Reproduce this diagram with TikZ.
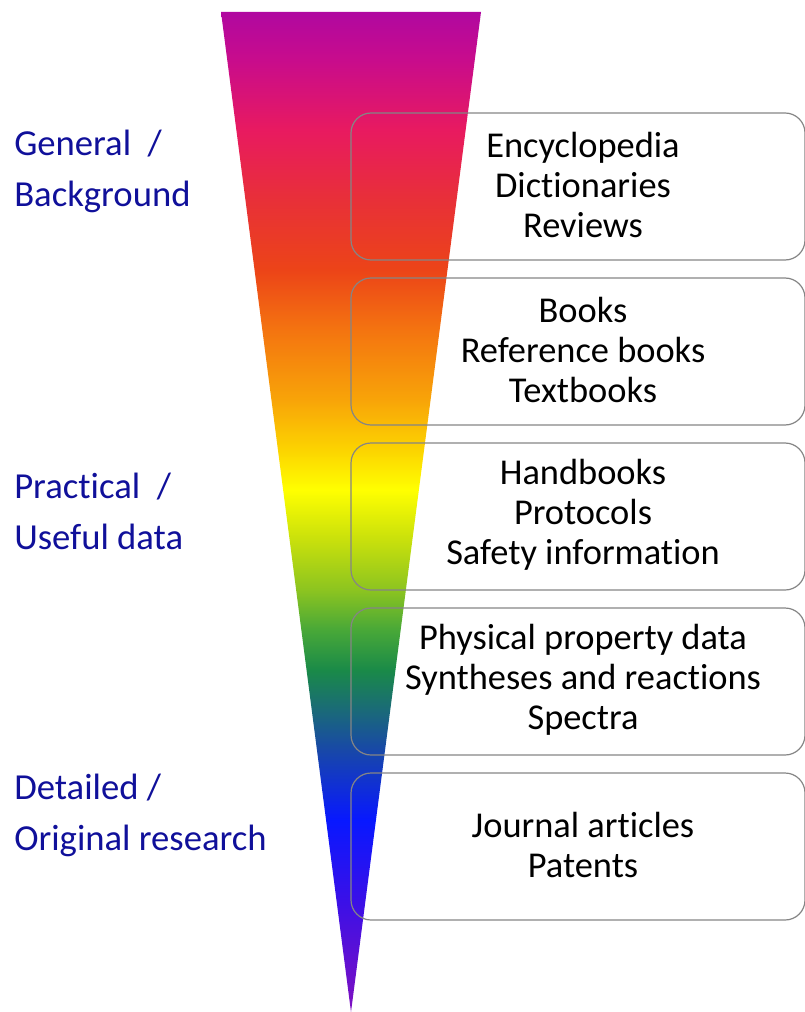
\documentclass[tikz,border=0pt]{standalone}
\usepackage{fontspec}
\setmainfont{Carlito}[Ligatures=NoCommon]
\definecolor{c01}{HTML}{B008A0}
\definecolor{c02}{HTML}{C80C8C}
\definecolor{c03}{HTML}{E81A60}
\definecolor{c04}{HTML}{E83038}
\definecolor{c05}{HTML}{EC4418}
\definecolor{c06}{HTML}{F47410}
\definecolor{c07}{HTML}{F8A408}
\definecolor{c08}{HTML}{FCD400}
\definecolor{c09}{HTML}{FFFF00}
\definecolor{c10}{HTML}{C8E00C}
\definecolor{c11}{HTML}{8CC420}
\definecolor{c12}{HTML}{48A838}
\definecolor{c13}{HTML}{1A8A48}
\definecolor{c14}{HTML}{1A6A78}
\definecolor{c15}{HTML}{1848A8}
\definecolor{c16}{HTML}{0818FF}
\definecolor{c17}{HTML}{3A10E8}
\definecolor{c18}{HTML}{8010C0}
\definecolor{labelblue}{HTML}{10109A}
\definecolor{boxgray}{HTML}{858585}
\pgfdeclareverticalshading{spectrum}{100bp}{%
color(0bp)=(c18);
color(25bp)=(c18);
color(30.6bp)=(c17);
color(34.6bp)=(c16);
color(38.1bp)=(c15);
color(40.1bp)=(c14);
color(42.1bp)=(c13);
color(44.1bp)=(c12);
color(46.1bp)=(c11);
color(48.6bp)=(c10);
color(51.1bp)=(c09);
color(53.1bp)=(c08);
color(55.6bp)=(c07);
color(59.1bp)=(c06);
color(62.1bp)=(c05);
color(65.6bp)=(c04);
color(69.1bp)=(c03);
color(72.6bp)=(c02);
color(75bp)=(c01);
color(100bp)=(c01)}
\tikzset{
  levelbox/.style={draw=boxgray, line width=0.9pt, rounded corners=15pt,
    minimum width=340.5pt, minimum height=110.25pt, inner sep=0pt},
  boxtext/.style={font=\fontsize{27.3pt}{30pt}\selectfont, align=center, text=black, inner sep=0pt},
  sidetext/.style={font=\fontsize{27.5pt}{38.25pt}\selectfont, align=left, text=labelblue, inner sep=0pt, anchor=base west}
}
\begin{document}
\begin{tikzpicture}[x=0.75pt,y=-0.75pt]
\useasboundingbox (0,0) rectangle (804,1012);
\shade[shading=spectrum] (221,12) -- (481,12) -- (351,1012) -- cycle;
\node[levelbox] (b1) at (578,186.5) {};
\node[levelbox] (b2) at (578,351.5) {};
\node[levelbox] (b3) at (578,516.5) {};
\node[levelbox] (b4) at (578,681.5) {};
\node[levelbox] (b5) at (578,846.5) {};
\node[boxtext] (t1) at ([xshift=3.75pt,yshift=1pt]b1.center) {Encyclopedia\\Dictionaries\\Reviews};
\node[boxtext] (t2) at ([xshift=3.75pt,yshift=1pt]b2.center) {Books\\Reference books\\Textbooks};
\node[boxtext] (t3) at ([xshift=3.75pt,yshift=1pt]b3.center) {Handbooks\\Protocols\\Safety information};
\node[boxtext] (t4) at ([xshift=3.75pt,yshift=1pt]b4.center) {Physical property data\\Syntheses and reactions\\Spectra};
\node[boxtext] (t5) at ([xshift=3.75pt,yshift=1pt]b5.center) {Journal articles\\Patents};
\node[sidetext] (s1) at (14,207) {General~~/\\Background};
\node[sidetext] (s2) at (14,549) {Practical~~/\\Useful data};
\node[sidetext] (s3) at (14,850) {Detailed /\\Original research};
\end{tikzpicture}
\end{document}
